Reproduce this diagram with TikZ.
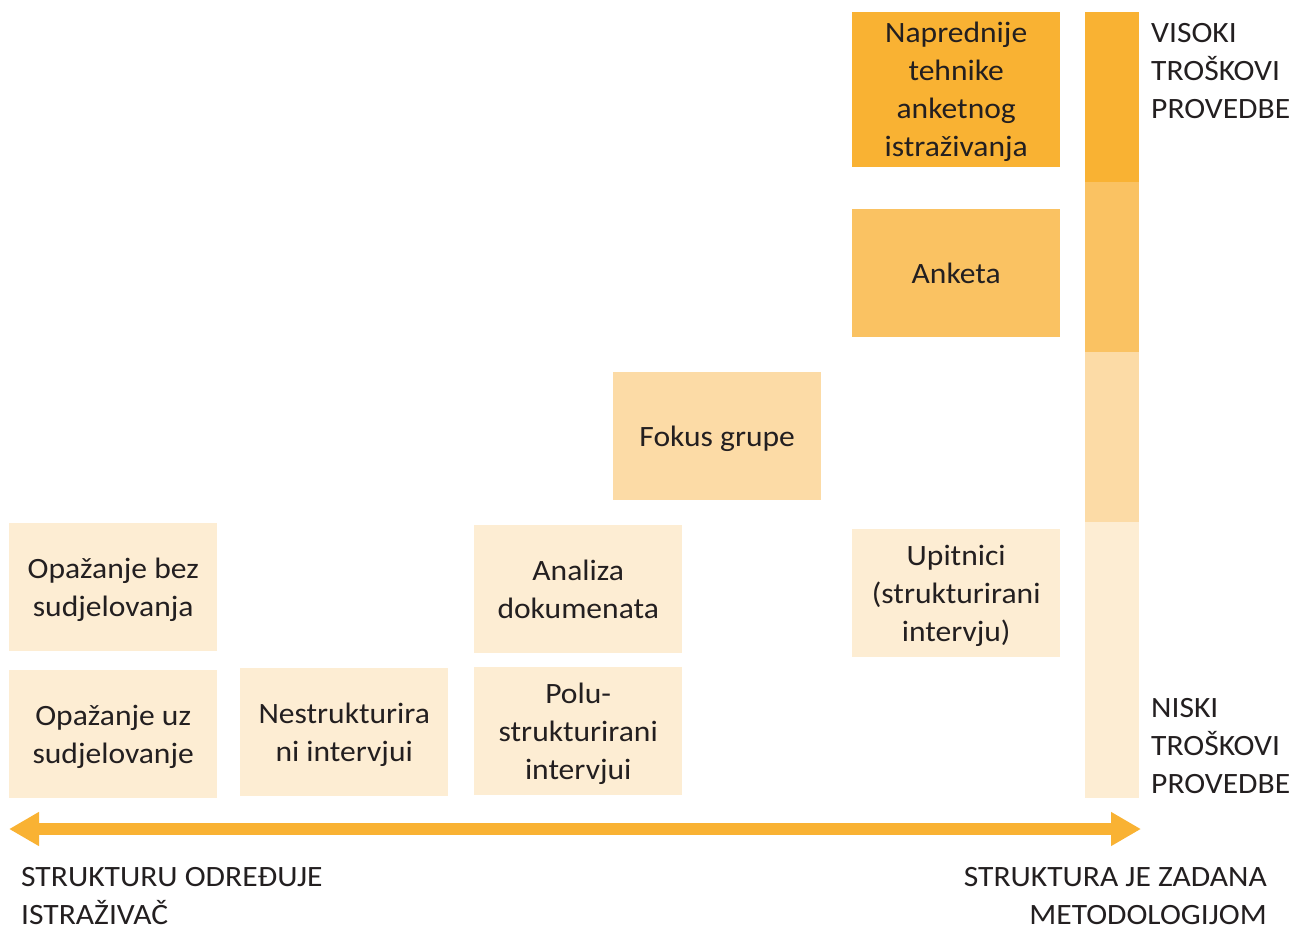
\documentclass[tikz,border=0pt]{standalone}
\usepackage{fontspec}
\setmainfont{Carlito}[FakeStretch=1.07]
\usetikzlibrary{arrows.meta}
\definecolor{costhigh}{HTML}{F9B233}
\definecolor{costmid}{HTML}{FAC262}
\definecolor{costlow}{HTML}{FCDBA6}
\definecolor{costmin}{HTML}{FDEDD3}
\definecolor{inkgrey}{HTML}{231F20}
\tikzset{
  method/.style={fill=#1, minimum width=208pt, minimum height=128pt,
    inner sep=0pt, text depth=0pt, align=center, anchor=north west,
    font=\fontsize{29.5}{38}\selectfont, text=inkgrey},
  costnote/.style={inner sep=0pt, font=\fontsize{29.5}{38}\selectfont, text=inkgrey}
}
\begin{document}
\begin{tikzpicture}[x=1pt, y=-1pt]
		\useasboundingbox (0,0) rectangle (1301,927);
		
		%%%%% METHODS %%%%%
		\node[method=costhigh, minimum height=155pt] (napredne) at (852,12) {Naprednije\\tehnike\\anketnog\\istraživanja};
		\node[method=costmid] (anketa) at (852,209) {Anketa};
		\node[method=costlow] (fokus) at (613,372) {Fokus grupe};
		\node[method=costmin] (upitnici) at (852,529) {Upitnici\\(strukturirani\\intervju)};
		\node[method=costmin] (analiza) at (474,525) {Analiza\\dokumenata};
		\node[method=costmin] (polu) at (474,667) {Polu-\\strukturirani\\intervjui};
		\node[method=costmin] (opazbez) at (9,523) {Opažanje bez\\sudjelovanja};
		\node[method=costmin] (opazuz) at (9,670) {Opažanje uz\\sudjelovanje};
		\node[method=costmin] (nestrukt) at (240,668) {Nestrukturira\\ni intervjui};
		
		%%%%% COST BAR %%%%%
		\fill[costhigh] (1085,12) rectangle (1139,182);
		\fill[costmid] (1085,182) rectangle (1139,352);
		\fill[costlow] (1085,352) rectangle (1139,522);
		\fill[costmin] (1085,522) rectangle (1139,798);
		
		\node[costnote, anchor=west, align=left] (visoki) at (1151,71) {VISOKI\\TROŠKOVI\\PROVEDBE};
		\node[costnote, anchor=west, align=left] (niski) at (1151,746) {NISKI\\TROŠKOVI\\PROVEDBE};
		
		%%%%% STRUCTURE AXIS %%%%%
		\coordinate (axisL) at (9,829);
		\coordinate (axisR) at (1141,829);
		\draw[line width=12pt, costhigh, {Triangle[length=30pt,width=32pt]}-{Triangle[length=30pt,width=32pt]}] (axisL) -- (axisR);
		
		\node[costnote, anchor=west, align=left] (istrazivac) at (21,896) {STRUKTURU ODREĐUJE\\ISTRAŽIVAČ};
		\node[costnote, anchor=east, align=right] (metodologija) at (1267,896) {STRUKTURA JE ZADANA\\METODOLOGIJOM};
		
	\end{tikzpicture}
\end{document}
